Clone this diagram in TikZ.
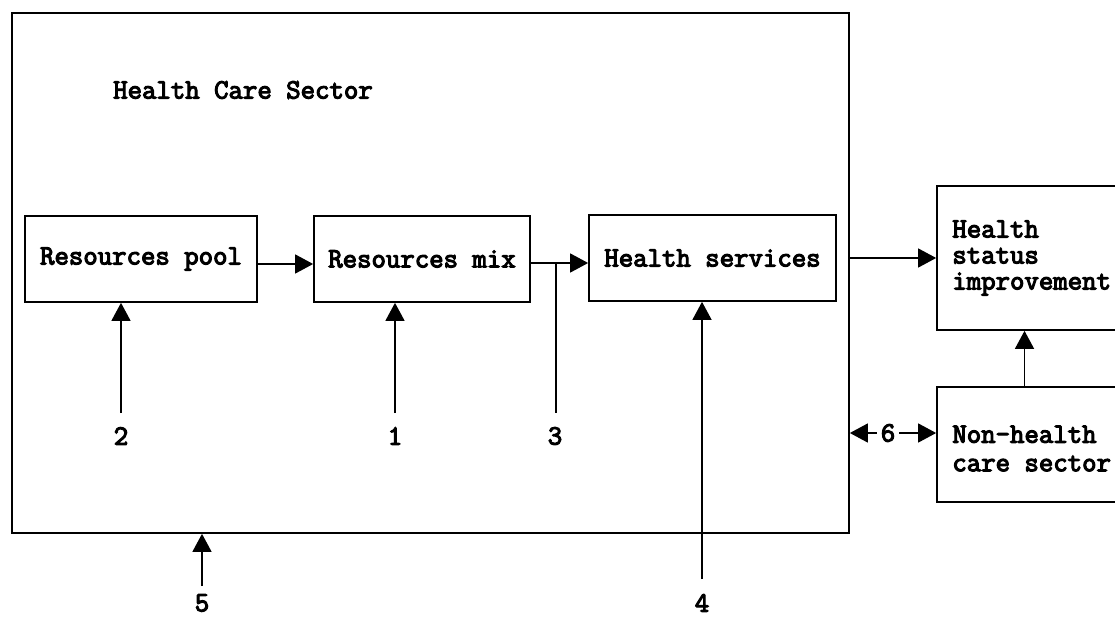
\documentclass[tikz,border=0pt]{standalone}
\usepackage{fontspec}
\usetikzlibrary{arrows.meta}
\newfontfamily\typefont[FakeBold=4]{Latin Modern Mono}
\tikzset{
  box/.style={draw, line width=1.7pt, inner sep=0pt, font=\typefont\fontsize{28}{26}\selectfont},
  ltext/.style={anchor=west, align=left, inner sep=0pt, font=\typefont\fontsize{28}{26}\selectfont},
  arr/.style={line width=1.4pt, -{Triangle[length=18pt,width=19pt]}},
  plain/.style={line width=1.4pt},
  lab/.style={inner sep=0pt, font=\typefont\fontsize{28}{26}\selectfont},
}
\begin{document}
\begin{tikzpicture}[x=1pt,y=-1pt]
\useasboundingbox (0,0) rectangle (1115,617);
\clip (0,0) rectangle (1115,617);
% outer sector box
\node[box, minimum width=837pt, minimum height=520pt] (hcs) at (430.5,273) {};
\node[anchor=west, inner sep=0pt, font=\typefont\fontsize{28}{26}\selectfont] (title) at (113,90) {Health Care Sector};
% inner boxes
\node[box, minimum width=232pt, minimum height=86pt] (pool) at (141,259) {Resources pool};
\node[box, minimum width=216pt, minimum height=86pt] (mix) at (422,259) {Resources mix};
\node[box, minimum width=247pt, minimum height=86pt] (serv) at (712.5,258) {Health services};
% outside boxes (cut by the right edge, as in the source)
\node[box, minimum width=217pt, minimum height=144pt] (hsi) at (1045.5,258) {};
\node[ltext] (hsitext) at ([xshift=16pt]hsi.west) {Health\\status\\improvement};
\node[box, minimum width=217pt, minimum height=115pt] (nhs) at (1045.5,444.5) {};
\node[ltext, font=\typefont\fontsize{28}{28.5}\selectfont] (nhstext) at ([xshift=16pt,yshift=-4pt]nhs.west) {Non-health\\care sector};
% labels
\node[lab] (l2) at (121,436) {2};
\node[lab] (l1) at (395,436) {1};
\node[lab] (l3) at (555,436) {3};
\node[lab] (l5) at (202,603) {5};
\node[lab] (l4) at (702,603) {4};
\node[lab, inner xsep=4pt] (l6) at (888,433) {6};
% flows
\coordinate (pm) at ([yshift=-5pt]pool.east);
\coordinate (ms) at ([yshift=-4pt]mix.east);
\draw[arr] (pm) -- (pm -| mix.west);
\draw[arr] (ms) -- (ms -| serv.west);
\draw[arr] (hsi.west -| hcs.east) -- (hsi.west);
\coordinate (nh) at ([xshift=-21pt]nhs.north);
\draw[arr] (nh) -- (nh |- hsi.south);
% numbered inputs
\draw[arr, shorten <=14pt] (l2.north) -- (l2.north |- pool.south);
\draw[arr, shorten <=14pt] (l1.north) -- (l1.north |- mix.south);
\draw[plain, shorten <=14pt] ([xshift=1pt]l3.north) -- ([xshift=1pt]l3.north |- ms);
\draw[arr, shorten <=15pt] (l4.north) -- (l4.north |- serv.south);
\draw[arr, shorten <=8pt] (l5.north) -- (l5.north |- hcs.south);
\draw[arr] (l6.west) -- (l6.west -| hcs.east);
\draw[arr] (l6.east) -- (l6.east -| nhs.west);
\end{tikzpicture}
\end{document}
